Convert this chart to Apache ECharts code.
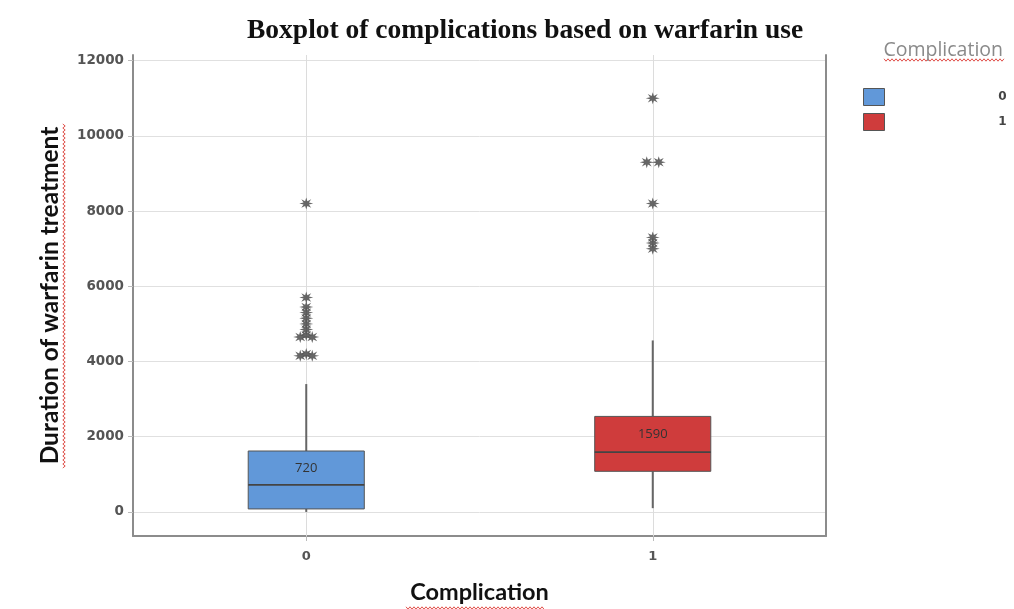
<!DOCTYPE html>
<html>
<head>
<meta charset="utf-8">
<script src="https://cdn.jsdelivr.net/npm/echarts@6/dist/echarts.min.js"></script>
<style>html,body{margin:0;padding:0;background:#fff}#chart{width:1014px;height:609px}</style>
</head>
<body>
<div id="chart"></div>
<script>
// ---- data ----
const categories = ['0', '1'];
// [min whisker, Q1, median, Q3, max whisker]
const boxStats0 = [0, 80, 720, 1620, 3400];
const boxStats1 = [100, 1080, 1590, 2540, 4560];
const medianLabels = ['720', '1590'];
const outliers0 = [8200, 5700, 5450, 5300, 5150, 5000, 4850, 4700, 4650, 4650, 4200, 4150, 4150];
const outliers1 = [11000, 9300, 9300, 8200, 7300, 7150, 7000];
const yTicks = [0, 2000, 4000, 6000, 8000, 10000, 12000];
const legendNames = ['0', '1'];

// ---- styles ----
const boxColors = ['#6198d9', '#cf3c3c'];

function starPath() {
  const pts = [];
  for (let k = 0; k < 16; k++) {
    const a = k * Math.PI / 8;
    const r = k % 2 ? 0.42 : 1;
    pts.push((r * Math.cos(a)).toFixed(3) + ' ' + (r * Math.sin(a)).toFixed(3));
  }
  return 'path://M' + pts.join(' L') + ' Z';
}
const STAR = starPath();

function outlierData(idx, vals) {
  const seen = {};
  return vals.map(v => {
    seen[v] = (seen[v] || 0) + 1;
    const dupCount = vals.filter(u => u === v).length;
    let off = 0;
    if (dupCount > 1) off = (seen[v] === 1 ? -6 : 6);
    return { value: [idx, v], symbolOffset: [off, 0] };
  });
}

function zigzag(x1, y1, x2, y2, step, amp) {
  const pts = [];
  const len = Math.hypot(x2 - x1, y2 - y1);
  const ux = (x2 - x1) / len, uy = (y2 - y1) / len;
  const nx = -uy, ny = ux;
  let s = 0, k = 0;
  while (s <= len) {
    const a = (k % 2 ? amp : -amp);
    pts.push([x1 + ux * s + nx * a, y1 + uy * s + ny * a]);
    s += step; k++;
  }
  return pts;
}
function squiggle(x1, y1, x2, y2) {
  return { type: 'polyline', silent: true, shape: { points: zigzag(x1, y1, x2, y2, 2, 1.2) },
    style: { stroke: '#e0504a', lineWidth: 1, fill: null } };
}

const chart = echarts.init(document.getElementById('chart'));
const boxData = [[0].concat(boxStats0), [1].concat(boxStats1)];

chart.setOption({
  backgroundColor: '#fff',
  animation: false,
  title: [{
    text: 'Boxplot of complications based on warfarin use',
    left: 242, top: 12,
    textStyle: { fontFamily: '"Liberation Serif", serif', fontWeight: 'bold', fontSize: 27.5, color: '#111' }
  }, {
    text: 'Complication',
    right: 6, top: 35,
    textStyle: { fontFamily: '"Open Sans", sans-serif', fontWeight: 'normal', fontSize: 19.5, color: '#8a8a8a' }
  }],
  legend: {
    data: legendNames,
    orient: 'vertical', left: 858, top: 83,
    itemWidth: 21, itemHeight: 17, itemGap: 7,
    icon: 'rect', selectedMode: false,
    itemStyle: { borderColor: '#555', borderWidth: 1 },
    formatter: name => '{a|' + name + '}',
    textStyle: {
      rich: { a: { width: 117, align: 'right', fontFamily: '"DejaVu Sans", sans-serif', fontWeight: 'bold', fontSize: 12, color: '#444' } }
    }
  },
  grid: { left: 133, right: 188, top: 55, bottom: 73, containLabel: false },
  xAxis: {
    type: 'category', data: categories, boundaryGap: true,
    axisLine: { show: true, onZero: false, lineStyle: { color: '#8c8c8c', width: 2 } },
    axisTick: { show: true, alignWithLabel: true, length: 5, lineStyle: { color: '#bbb' } },
    axisLabel: { margin: 14, fontFamily: '"DejaVu Sans", sans-serif', fontWeight: 'bold', fontSize: 13, color: '#555' },
    splitLine: { show: false },
    name: 'Complication', nameLocation: 'middle', nameGap: 44,
    nameTextStyle: { fontFamily: 'Lato, sans-serif', fontWeight: 'bold', fontSize: 23.5, color: '#111' }
  },
  yAxis: [{
    type: 'value', min: -640, max: 12150,
    axisLine: { show: true, lineStyle: { color: '#8c8c8c', width: 2 } },
    axisTick: { show: true, length: 5, customValues: yTicks, lineStyle: { color: '#bbb' } },
    axisLabel: { margin: 9, customValues: yTicks, formatter: v => String(v),
      fontFamily: '"DejaVu Sans", sans-serif', fontWeight: 'bold', fontSize: 13.5, color: '#555' },
    splitLine: { show: true, lineStyle: { color: '#e0e0e0', width: 1 } },
    name: 'Duration of warfarin treatment', nameLocation: 'middle', nameRotate: 90, nameGap: 70,
    nameTextStyle: { fontFamily: 'Lato, sans-serif', fontWeight: 'bold', fontSize: 24.5, color: '#111' }
  }, {
    type: 'value', min: -640, max: 12150, position: 'right',
    axisLine: { show: true, onZero: false, lineStyle: { color: '#8c8c8c', width: 2 } },
    axisTick: { show: false }, axisLabel: { show: false }, splitLine: { show: false }
  }],
  graphic: [
    squiggle(884, 60, 1004, 60),
    squiggle(64, 468, 64, 124),
    squiggle(406, 608, 545, 608)
  ],
  series: [
    {
      name: 'grid', type: 'scatter', data: [], z: 1, silent: true,
      markLine: {
        silent: true, symbol: 'none', label: { show: false }, z: 1,
        lineStyle: { color: '#dcdcdc', type: 'solid', width: 1 },
        data: categories.map(c => ({ xAxis: c }))
      }
    },
    {
      name: 'boxes', type: 'custom', z: 3,
      data: boxData,
      encode: { x: 0, y: [1, 2, 3, 4, 5] },
      renderItem: function (params, api) {
        const i = api.value(0);
        const mn = api.value(1), q1 = api.value(2), md = api.value(3), q3 = api.value(4), mx = api.value(5);
        const x = api.coord([i, md])[0];
        const w = api.size([1, 0])[0] * 0.335;
        const y = v => api.coord([i, v])[1];
        return {
          type: 'group',
          children: [
            { type: 'line', shape: { x1: x, y1: y(q3), x2: x, y2: y(mx) }, style: { stroke: '#666', lineWidth: 2 } },
            { type: 'line', shape: { x1: x, y1: y(q1), x2: x, y2: y(mn) }, style: { stroke: '#666', lineWidth: 2 } },
            { type: 'rect', shape: { x: x - w / 2, y: y(q3), width: w, height: y(q1) - y(q3) },
              style: { fill: boxColors[i], stroke: '#555', lineWidth: 1 } },
            { type: 'line', shape: { x1: x - w / 2, y1: y(md), x2: x + w / 2, y2: y(md) }, style: { stroke: '#444', lineWidth: 1.6 } },
            { type: 'text', style: { text: medianLabels[i], x: x, y: (y(q3) + y(md)) / 2, align: 'center', verticalAlign: 'middle',
              fill: '#333', font: '13px "Open Sans", sans-serif' } }
          ]
        };
      }
    },
    {
      name: 'outliers', type: 'scatter', z: 4,
      symbol: STAR, symbolSize: [14, 12],
      itemStyle: { color: '#555', opacity: 0.9 },
      data: outlierData(0, outliers0).concat(outlierData(1, outliers1))
    },
    { name: legendNames[0], type: 'bar', data: [], itemStyle: { color: boxColors[0] } },
    { name: legendNames[1], type: 'bar', data: [], itemStyle: { color: boxColors[1] } }
  ]
});
</script>
</body>
</html>
